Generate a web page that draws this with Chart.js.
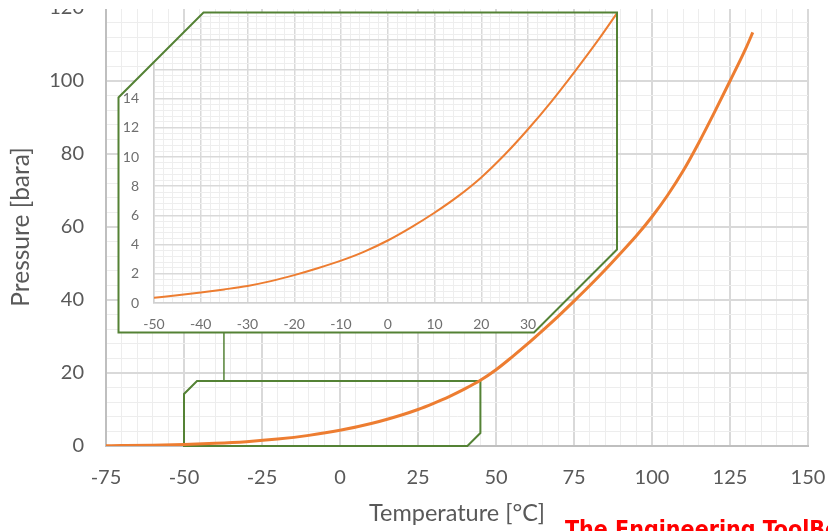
<!DOCTYPE html>
<html><head><meta charset="utf-8">
<script src="https://cdn.jsdelivr.net/npm/chart.js@4/dist/chart.umd.min.js"></script>
<style>
html,body{margin:0;padding:0;background:#fff;}
#wrap{position:relative;width:828px;height:531px;overflow:hidden;background:#fff;}
#main{position:absolute;left:0;top:-20px;}
#mask{position:absolute;left:0;top:0;width:828px;height:9px;background:#fff;}
#inset{position:absolute;left:110px;top:0;}
#brand{position:absolute;left:565px;top:516px;font:bold 23px "DejaVu Sans Condensed","DejaVu Sans",sans-serif;color:#f00;white-space:nowrap;}
</style></head><body>
<div id="wrap">
<canvas id="main" width="828" height="551"></canvas>
<div id="mask"></div>
<canvas id="inset" width="527" height="345"></canvas>
<div id="brand">The Engineering ToolBox</div>
</div>
<script>
// ---- data ----
const temperatureMain = [-75,-70,-60,-50,-40,-30,-20,-10,0,10,20,25,30,35,40,45,50,55,60,65,70,75,80,85,90,95,100,105,110,115,120,125,130,132.3];
const pressureMain    = [0.07,0.11,0.22,0.41,0.72,1.19,1.90,2.91,4.29,6.15,8.57,10.0,11.7,13.55,15.65,18.0,20.9,24.3,27.9,31.7,35.6,39.7,43.9,48.3,52.9,57.6,62.8,68.7,75.4,83.1,91.4,100.0,108.8,113.3];

const temperatureInset = [-50,-45,-40,-35,-30,-25,-20,-15,-10,-5,0,5,10,15,20,25,30,35,40,45,50];
const pressureInset    = [0.36,0.53,0.72,0.93,1.17,1.50,1.91,2.38,2.90,3.52,4.28,5.18,6.18,7.30,8.60,10.15,11.9,13.8,15.85,18.0,20.3];

const mainXTickLabels  = [-75,-50,-25,0,25,50,75,100,125,150];
const mainYTickLabels  = [0,20,40,60,80,100,120];
const insetXTickLabels = [-50,-40,-30,-20,-10,0,10,20,30,40,50];
const insetYTickLabels = [0,2,4,6,8,10,12,14,16,18,20];

// zoomed region marked on the main chart (data units)
const zoomRegionX = [-50, 45];
const zoomRegionY = [0, 17.8];
const connectorX  = -37.2;

// ---- layout constants (page pixels) ----
const MAIN_TOP_OFFSET = 20;
const INSET_LEFT = 110;
const INSET_FRAME = {left:118.5, top:12.5, right:617, bottom:332.5, cutTL:85, cutBR:83};

const ORANGE = '#ED7D31', GREEN = '#548235';
const isIn = (v, arr) => arr.some(a => Math.abs(a - v) < 1e-6);

const mainPoints  = temperatureMain.map((t,i)=>({x:t, y:pressureMain[i]}));
const insetPoints = temperatureInset.map((t,i)=>({x:t, y:pressureInset[i]}));

const zoomBoxPlugin = {
  id:'zoomBox',
  beforeDatasetsDraw(chart){
    const {ctx, scales:{x,y}} = chart;
    const x0 = x.getPixelForValue(zoomRegionX[0]), x1 = x.getPixelForValue(zoomRegionX[1]);
    const y0 = y.getPixelForValue(zoomRegionY[0]), y1 = y.getPixelForValue(zoomRegionY[1]);
    const c = 13;
    ctx.save();
    ctx.strokeStyle = GREEN; ctx.lineWidth = 2;
    ctx.beginPath();
    ctx.moveTo(x0, y0); ctx.lineTo(x0, y1 + c); ctx.lineTo(x0 + c, y1);
    ctx.lineTo(x1, y1); ctx.lineTo(x1, y0 - c); ctx.lineTo(x1 - c, y0);
    ctx.closePath(); ctx.stroke();
    const cx = x.getPixelForValue(connectorX);
    ctx.lineWidth = 1.5;
    ctx.beginPath(); ctx.moveTo(cx, y1); ctx.lineTo(cx, INSET_FRAME.bottom + MAIN_TOP_OFFSET); ctx.stroke();
    ctx.restore();
  }
};

new Chart(document.getElementById('main'), {
  type:'line',
  data:{datasets:[{data:mainPoints, borderColor:ORANGE, borderWidth:3, pointRadius:0, cubicInterpolationMode:'monotone', fill:false}]},
  options:{
    responsive:false, animation:false,
    layout:{padding:{top:28,right:20,bottom:0,left:0}},
    plugins:{legend:{display:false}, tooltip:{enabled:false}},
    scales:{
      x:{type:'linear', min:-75, max:150,
        ticks:{stepSize:5, autoSkip:false, maxTicksLimit:1000, maxRotation:0, padding:20,
          font:{family:'Lato', size:20}, color:'#595959',
          callback:(v)=> isIn(v, mainXTickLabels) ? String(v) : ''},
        grid:{drawTicks:false,
          color:(c)=> isIn(c.tick.value, mainXTickLabels) ? '#d9d9d9' : '#ededed',
          lineWidth:(c)=> isIn(c.tick.value, mainXTickLabels) ? 2 : 1},
        border:{color:'#bfbfbf', width:2},
        title:{display:true, text:'Temperature [°C]', font:{family:'Lato', size:23.5}, color:'#595959', padding:{top:0,bottom:3}},
        afterFit:(s)=>{ s.height = 85; s.paddingLeft = 0; s.paddingRight = 0; }
      },
      y:{type:'linear', min:0, max:120,
        ticks:{stepSize:4, autoSkip:false, maxTicksLimit:1000, padding:22,
          font:{family:'Lato', size:20}, color:'#595959',
          callback:(v)=> isIn(v, mainYTickLabels) ? String(v) : ''},
        grid:{drawTicks:false,
          color:(c)=> isIn(c.tick.value, mainYTickLabels) ? '#d9d9d9' : '#ededed',
          lineWidth:(c)=> isIn(c.tick.value, mainYTickLabels) ? 2 : 1},
        border:{color:'#bfbfbf', width:2},
        title:{display:true, text:'Pressure [bara]', font:{family:'Lato', size:24.5}, color:'#595959', padding:{top:6,bottom:0}},
        afterFit:(s)=>{ s.width = 106; s.paddingTop = 0; s.paddingBottom = 0; }
      }
    }
  },
  plugins:[zoomBoxPlugin]
});

function framePath(ctx){
  const f = INSET_FRAME, ox = INSET_LEFT;
  ctx.beginPath();
  ctx.moveTo(f.left-ox, f.bottom);
  ctx.lineTo(f.left-ox, f.top + f.cutTL);
  ctx.lineTo(f.left-ox + f.cutTL, f.top);
  ctx.lineTo(f.right-ox, f.top);
  ctx.lineTo(f.right-ox, f.bottom - f.cutBR);
  ctx.lineTo(f.right-ox - f.cutBR, f.bottom);
  ctx.closePath();
}
const insetFramePlugin = {
  id:'insetFrame',
  beforeDraw(chart){
    const ctx = chart.ctx;
    ctx.save();
    framePath(ctx); ctx.clip();
    ctx.fillStyle = '#fff'; ctx.fill();
  },
  afterDraw(chart){
    const ctx = chart.ctx;
    ctx.restore();
    ctx.save();
    framePath(ctx);
    ctx.strokeStyle = GREEN; ctx.lineWidth = 2; ctx.stroke();
    ctx.restore();
  }
};

new Chart(document.getElementById('inset'), {
  type:'line',
  data:{datasets:[{data:insetPoints, borderColor:ORANGE, borderWidth:2, pointRadius:0, cubicInterpolationMode:'monotone', fill:false}]},
  options:{
    responsive:false, animation:false,
    layout:{padding:{top:11,right:15.5,bottom:0,left:0}},
    plugins:{legend:{display:false}, tooltip:{enabled:false}},
    scales:{
      x:{type:'linear', min:-50, max:50,
        ticks:{stepSize:2, autoSkip:false, maxTicksLimit:1000, maxRotation:0, padding:13,
          font:{family:'Lato', size:14}, color:'#6f6f6f',
          callback:(v)=> isIn(v, insetXTickLabels) ? String(Math.round(v)) : ''},
        grid:{drawTicks:false,
          color:(c)=> isIn(c.tick.value, insetXTickLabels) ? '#d9d9d9' : '#eeeeee',
          lineWidth:(c)=> isIn(c.tick.value, insetXTickLabels) ? 1.5 : 1},
        border:{color:'#d0d0d0', width:1.5},
        afterFit:(s)=>{ s.height = 42; s.paddingLeft = 0; s.paddingRight = 0; }
      },
      y:{type:'linear', min:0, max:20,
        ticks:{stepSize:0.4, autoSkip:false, maxTicksLimit:1000, padding:15,
          font:{family:'Lato', size:14}, color:'#6f6f6f',
          callback:(v)=> isIn(v, insetYTickLabels) ? String(Math.round(v)) : ''},
        grid:{drawTicks:false,
          color:(c)=> isIn(c.tick.value, insetYTickLabels) ? '#d9d9d9' : '#eeeeee',
          lineWidth:(c)=> isIn(c.tick.value, insetYTickLabels) ? 1.5 : 1},
        border:{color:'#d0d0d0', width:1.5},
        afterFit:(s)=>{ s.width = 44; s.paddingTop = 0; s.paddingBottom = 0; }
      }
    }
  },
  plugins:[insetFramePlugin]
});
</script>
</body></html>
